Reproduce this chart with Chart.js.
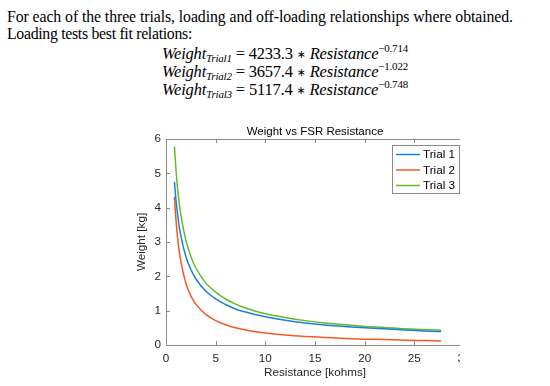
<!DOCTYPE html>
<html>
<head>
<meta charset="utf-8">
<script src="https://cdn.jsdelivr.net/npm/chart.js@4"></script>
<style>
  html, body { margin: 0; padding: 0; background: #fff; }
  body { width: 550px; height: 386px; position: relative; overflow: hidden; }
  .txt { position: absolute; left: 7px; white-space: nowrap; font-family: 'Liberation Serif', serif; color: #000; font-size: 15.8px; line-height: 17px; }
  .eq { position: absolute; left: 162px; white-space: nowrap; font-family: 'Liberation Serif', serif; color: #000; font-size: 16.5px; line-height: 17px; }
  .eq i { font-style: italic; }
  .eq .op { font-family: 'DejaVu Sans', sans-serif; font-size: 11px; position: relative; top: -1px; }
  .eq .sb { font-size: 11px; font-style: italic; position: relative; top: 3px; }
  .eq .sp { font-size: 11px; position: relative; top: -7px; }
  #wrap { position: absolute; left: 0; top: 110px; width: 460px; height: 276px; overflow: hidden; }
</style>
</head>
<body>
<div class="txt" id="line1" style="top:8px">For each of the three trials, loading and off-loading relationships where obtained.</div>
<div class="txt" id="line2" style="top:25px">Loading tests best fit relations:</div>
<div class="eq" id="eq1" style="top:45px"><i>Weight</i><span class="sb">Trial1</span> = 4233.3 <span class="op">∗</span> <i>Resistance</i><span class="sp">−0.714</span></div>
<div class="eq" id="eq2" style="top:63px"><i>Weight</i><span class="sb">Trial2</span> = 3657.4 <span class="op">∗</span> <i>Resistance</i><span class="sp">−1.022</span></div>
<div class="eq" id="eq3" style="top:81px"><i>Weight</i><span class="sb">Trial3</span> = 5117.4 <span class="op">∗</span> <i>Resistance</i><span class="sp">−0.748</span></div>

<div id="wrap"><canvas id="fsr-chart" width="480" height="276"></canvas></div>

<script>
// values (Resistance in kohms, Weight in kg)
const resistance = [0.85, 1, 1.25, 1.5, 2, 2.5, 3, 4, 5, 6, 7, 8, 10, 12, 14, 16, 18, 20, 22, 24, 26, 27.7];
const trial1 = [4.75, 4.23, 3.61, 3.17, 2.58, 2.20, 1.93, 1.57, 1.34, 1.18, 1.05, 0.96, 0.82, 0.72, 0.64, 0.58, 0.54, 0.50, 0.47, 0.44, 0.41, 0.39];
const trial2 = [4.32, 3.66, 2.91, 2.42, 1.80, 1.43, 1.19, 0.89, 0.71, 0.59, 0.50, 0.44, 0.35, 0.29, 0.25, 0.22, 0.19, 0.17, 0.16, 0.14, 0.13, 0.12];
const trial3 = [5.78, 5.12, 4.33, 3.78, 3.05, 2.58, 2.25, 1.81, 1.54, 1.34, 1.19, 1.08, 0.91, 0.80, 0.71, 0.64, 0.59, 0.54, 0.51, 0.47, 0.45, 0.43];

const seriesNames = ['Trial 1', 'Trial 2', 'Trial 3'];
const seriesColors = ['#1684d6', '#ef5b22', '#67b82c'];
const xTicks = [0, 5, 10, 15, 20, 25, 30];
const yTicks = [0, 1, 2, 3, 4, 5, 6];

const chartTitle = 'Weight vs FSR Resistance';
const axisFont = "'Liberation Sans', Arial, sans-serif";
const axisGray = '#8a8a8a';

// stretch the header lines to the widths they have in the figure
function fitWidth(id, target) {
    const el = document.getElementById(id);
    const w = el.getBoundingClientRect().width;
    el.style.letterSpacing = ((target - w) / el.textContent.length).toFixed(3) + 'px';
}
fitWidth('line1', 506);
fitWidth('line2', 185);
fitWidth('eq1', 246);
fitWidth('eq2', 246);
fitWidth('eq3', 246);

function toPoints(ys) {
    return resistance.map((r, i) => ({ x: r, y: ys[i] }));
}

// MATLAB-ish box, inward ticks, title and legend
const matlabAxes = {
    id: 'matlabAxes',
    afterDraw(chart) {
        const { ctx, chartArea: a, scales: { x, y } } = chart;
        ctx.save();
        ctx.strokeStyle = axisGray;
        ctx.lineWidth = 1;
        ctx.beginPath();
        ctx.rect(a.left + 0.5, a.top + 0.5, a.right - a.left - 1, a.bottom - a.top);
        xTicks.forEach(v => {
            const px = Math.round(x.getPixelForValue(v)) + 0.5;
            ctx.moveTo(px, a.bottom); ctx.lineTo(px, a.bottom - 4);
            ctx.moveTo(px, a.top); ctx.lineTo(px, a.top + 4);
        });
        yTicks.forEach(v => {
            const py = Math.round(y.getPixelForValue(v)) + 0.5;
            ctx.moveTo(a.left, py); ctx.lineTo(a.left + 4, py);
            ctx.moveTo(a.right, py); ctx.lineTo(a.right - 4, py);
        });
        ctx.stroke();

        // title
        ctx.fillStyle = '#000';
        ctx.font = '11.5px ' + axisFont;
        ctx.textAlign = 'center';
        ctx.textBaseline = 'middle';
        ctx.fillText(chartTitle, (a.left + a.right) / 2, a.top - 7);

        // legend box
        const bw = 67, bh = 48;
        const bx = a.right - 5 - bw, by = a.top + 6;
        ctx.fillStyle = '#fff';
        ctx.fillRect(bx, by, bw, bh);
        ctx.strokeStyle = axisGray;
        ctx.strokeRect(bx + 0.5, by + 0.5, bw, bh);
        ctx.textAlign = 'left';
        ctx.font = '11.7px ' + axisFont;
        chart.data.datasets.forEach((ds, i) => {
            const ry = by + 9.5 + i * 15.5;
            ctx.strokeStyle = ds.borderColor;
            ctx.lineWidth = 1.5;
            ctx.beginPath();
            ctx.moveTo(bx + 4, ry); ctx.lineTo(bx + 28, ry);
            ctx.stroke();
            ctx.fillStyle = '#000';
            ctx.fillText(ds.label, bx + 31, ry + 0.5);
        });
        ctx.restore();
    }
};

const datasets = [trial1, trial2, trial3].map((ys, i) => ({
    label: seriesNames[i],
    data: toPoints(ys),
    borderColor: seriesColors[i],
    backgroundColor: seriesColors[i],
    borderWidth: 1.5,
    pointRadius: 0,
    fill: false,
    cubicInterpolationMode: 'monotone'
}));

const config = {
    type: 'line',
    data: { datasets: datasets },
    options: {
        responsive: false,
        animation: false,
        layout: { padding: { left: 135, top: 29, right: 16, bottom: 0 } },
        plugins: {
            legend: { display: false },
            title: { display: false },
            tooltip: { enabled: false }
        },
        scales: {
            x: {
                type: 'linear',
                min: 0,
                max: 30,
                afterBuildTicks: s => { s.ticks = xTicks.map(v => ({ value: v })); },
                afterFit: s => { s.height = 41; },
                grid: { display: false, drawTicks: false },
                border: { display: false },
                ticks: { padding: 7, color: '#262626', font: { family: axisFont, size: 11.7 }, maxRotation: 0 },
                title: { display: true, text: 'Resistance [kohms]', color: '#262626', font: { family: axisFont, size: 11.7 }, padding: { top: 0, bottom: 6 } }
            },
            y: {
                type: 'linear',
                min: 0,
                max: 6,
                afterBuildTicks: s => { s.ticks = yTicks.map(v => ({ value: v })); },
                afterFit: s => { s.width = 31; },
                grid: { display: false, drawTicks: false },
                border: { display: false },
                ticks: { padding: 5, color: '#262626', font: { family: axisFont, size: 11.7 } },
                title: { display: true, text: 'Weight [kg]', color: '#262626', font: { family: axisFont, size: 11.7 }, padding: 0 }
            }
        }
    },
    plugins: [matlabAxes]
};

window.fsrChart = new Chart(document.getElementById('fsr-chart'), config);
</script>
</body>
</html>
